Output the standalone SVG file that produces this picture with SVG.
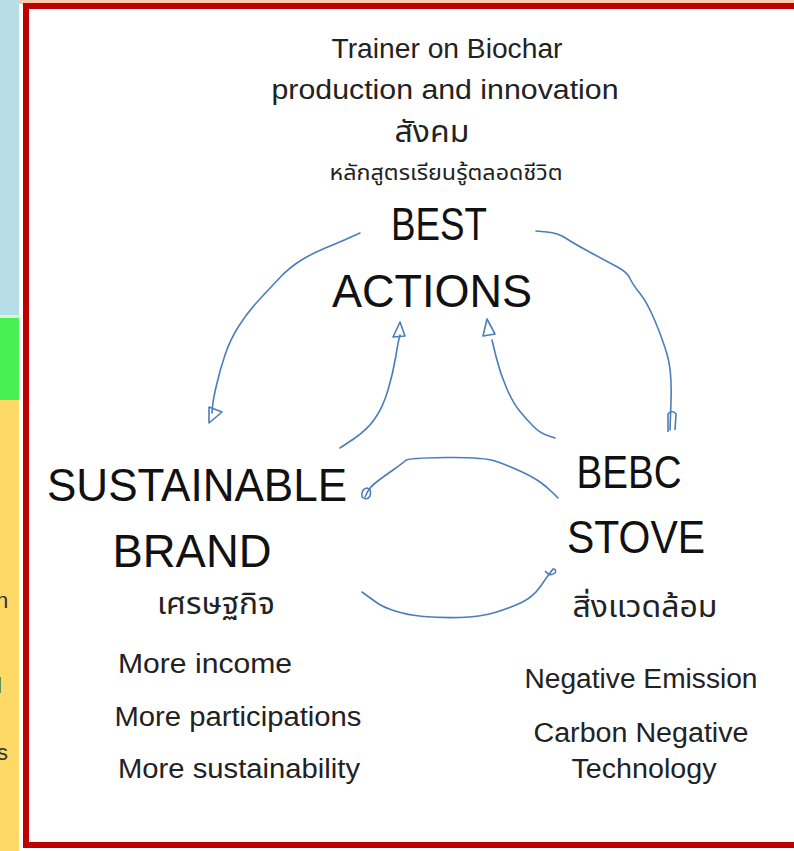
<svg xmlns="http://www.w3.org/2000/svg" width="794" height="851" viewBox="0 0 794 851">
<style>
  .t { font-family: "Liberation Sans", "Noto Sans", "Noto Sans Thai", sans-serif; fill: #111; text-anchor: middle; }
  .big { font-size: 46px; }
  .mid { font-size: 27px; fill: #222; }
  .th { font-family: "Noto Sans Thai", "Noto Sans", "DejaVu Sans", sans-serif; fill: #222; text-anchor: middle; }
  .edge { fill: none; stroke: #4A7EBB; stroke-width: 1.6; stroke-linecap: round; stroke-linejoin: round; }
  .head { fill: none; stroke: #4A7EBB; stroke-width: 1.6; stroke-linejoin: round; }
  .side { font-family: "Liberation Sans", sans-serif; font-size: 22px; fill: #333; }
</style>
<rect x="0" y="0" width="794" height="851" fill="#ffffff"/>
<g id="left-strip">
  <rect x="8" y="0" width="786" height="4" fill="#F8CBAD"/>
  <rect x="0" y="0" width="19" height="315" fill="#B7DDE8"/>
  <rect x="0" y="315" width="19" height="3" fill="#D8F5D8"/>
  <rect x="0" y="318" width="19" height="82" fill="#46F050"/>
  <rect x="0" y="400" width="19" height="451" fill="#FFD966"/>
  <text class="side" x="-4" y="608">n</text>
  <text class="side" x="-3" y="693" font-size="18">l</text>
  <text class="side" x="-3" y="760" font-size="18">s</text>
</g>
<rect id="frame" x="26" y="6" width="800" height="839" fill="#ffffff" stroke="#C00000" stroke-width="6"/>
<g id="connectors">
  <path class="edge" d="M360,233 L350,237.5 Q340,242 326.5,247.5 Q313,253 301.5,260 Q290,267 280,277.5 Q270,288 258.5,300.5 Q247,313 238.5,326.5 Q230,340 225,355 Q220,370 216.5,385 Q213,400 212.5,406.5 L212,413"/>
  <path class="head" d="M209,407 L209,423 L222,412 Z"/>
  <path class="edge" d="M340,448 L353.5,439 Q367,430 375,418.5 Q383,407 388,390 Q393,373 395.5,358 Q398,343 399,339 L400,335"/>
  <path class="head" d="M400,322 L393,337 L405,336 Z"/>
  <path class="edge" d="M555,438 L547.5,435.5 Q540,433 533.5,426.5 Q527,420 520,411.5 Q513,403 506.5,388 Q500,373 496,356.5 L492,340"/>
  <path class="head" d="M487,319 L483,336 L495,334 Z"/>
  <path class="edge" d="M536,231 L547,232 Q558,233 565.5,238 Q573,243 590.5,252.5 Q608,262 617.5,267 Q627,272 630,278.5 Q633,285 640,293.5 Q647,302 655,321 Q663,340 667.5,356 Q672,372 671,401 L670,430"/>
  <path class="head" d="M668,432 L668,414 Q672,409 676,414 L675,430"/>
  <path class="edge" d="M558,498 L552.5,492.5 Q547,487 540,482 Q533,477 520,471 Q507,465 495,461 Q483,457 445.5,457.5 Q408,458 405.5,460.5 Q403,463 393,470 Q383,477 376.5,482 Q370,487 367.5,492 L365,497"/>
  <path class="head" d="M362,497 Q361,489 367,488 Q372,489 370,496 Q367,501 362,497 Z"/>
  <path class="edge" d="M362,592 L367.5,596 Q373,600 378,603.5 Q383,607 395,611 Q407,615 423.5,616.5 Q440,618 460,617.5 Q480,617 495,612.5 Q510,608 521.5,602.5 Q533,597 540,587 Q547,577 548.5,575 L550,573"/>
  <path class="head" d="M545,571 Q550,577 555,573 Q557,569 553,569 L550,573"/>
</g>
<g id="node-best-actions">
  <text class="t mid" x="447" y="58" textLength="231" lengthAdjust="spacingAndGlyphs">Trainer on Biochar</text>
  <text class="t mid" x="445" y="99" textLength="347" lengthAdjust="spacingAndGlyphs">production and innovation</text>
  <text class="th" x="432" y="142" font-size="30" textLength="75" lengthAdjust="spacingAndGlyphs">สังคม</text>
  <text class="th" x="446" y="180" font-size="21" textLength="233" lengthAdjust="spacingAndGlyphs">หลักสูตรเรียนรู้ตลอดชีวิต</text>
  <text class="t big" x="439" y="240" textLength="96" lengthAdjust="spacingAndGlyphs">BEST</text>
  <text class="t big" x="432" y="307" textLength="200" lengthAdjust="spacingAndGlyphs">ACTIONS</text>
</g>
<g id="node-sustainable-brand">
  <text class="t big" x="197" y="501" textLength="300" lengthAdjust="spacingAndGlyphs">SUSTAINABLE</text>
  <text class="t big" x="192" y="567" textLength="159" lengthAdjust="spacingAndGlyphs">BRAND</text>
  <text class="th" x="216" y="614" font-size="30" textLength="118" lengthAdjust="spacingAndGlyphs">เศรษฐกิจ</text>
  <text class="t mid" x="205" y="673" textLength="174" lengthAdjust="spacingAndGlyphs">More income</text>
  <text class="t mid" x="238" y="726" textLength="247" lengthAdjust="spacingAndGlyphs">More participations</text>
  <text class="t mid" x="239" y="778" textLength="242" lengthAdjust="spacingAndGlyphs">More sustainability</text>
</g>
<g id="node-bebc-stove">
  <text class="t big" x="629" y="488" textLength="105" lengthAdjust="spacingAndGlyphs">BEBC</text>
  <text class="t big" x="636" y="553" textLength="138" lengthAdjust="spacingAndGlyphs">STOVE</text>
  <text class="th" x="645" y="617" font-size="30" textLength="145" lengthAdjust="spacingAndGlyphs">สิ่งแวดล้อม</text>
  <text class="t mid" x="641" y="688" textLength="233" lengthAdjust="spacingAndGlyphs">Negative Emission</text>
  <text class="t mid" x="641" y="742" textLength="215" lengthAdjust="spacingAndGlyphs">Carbon Negative</text>
  <text class="t mid" x="644" y="778" textLength="145" lengthAdjust="spacingAndGlyphs">Technology</text>
</g>
</svg>
